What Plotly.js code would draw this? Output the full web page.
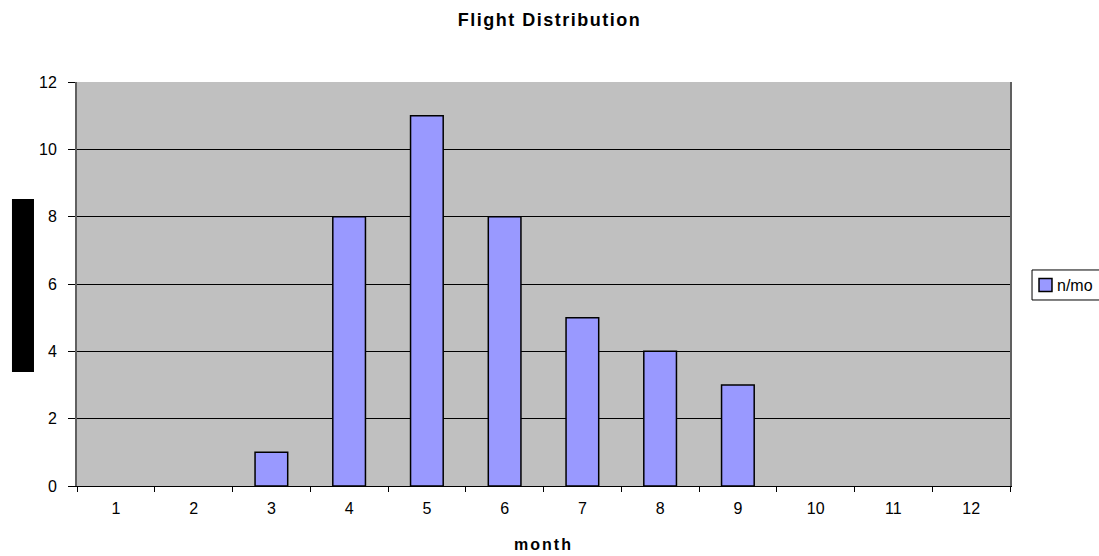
<!DOCTYPE html>
<html>
<head>
<meta charset="utf-8">
<script src="https://cdn.plot.ly/plotly-3.0.1.min.js"></script>
<style>
html,body{margin:0;padding:0;background:#fff;}
#chart{width:1099px;height:556px;}
#chart .gtitle{letter-spacing:1.5px;}
#chart .xtitle{letter-spacing:2px;}
</style>
</head>
<body>
<div id="chart"></div>
<script>
var months = ['1','2','3','4','5','6','7','8','9','10','11','12'];
var flights = [0,0,1,8,11,8,5,4,3,0,0,0];
var seriesName = 'n/mo';
var yTicks = [0,2,4,6,8,10,12];

var barColor = '#9999FF';
var trace = {
  type: 'bar',
  x: months,
  y: flights,
  name: seriesName,
  showlegend: false,
  marker: {color: barColor, line: {color: '#000000', width: flights.map(function(v){ return v > 0 ? 1.5 : 0; })}},
  hoverinfo: 'x+y'
};

var FONT = 'Liberation Sans, Arial, sans-serif';
var layout = {
  width: 1099, height: 556,
  margin: {l: 77, r: 89, t: 82, b: 70, autoexpand: false},
  paper_bgcolor: '#FFFFFF',
  plot_bgcolor: '#C0C0C0',
  font: {family: FONT, size: 16, color: '#000'},
  title: {text: '<b>Flight Distribution</b>', x: 0.5, xref: 'container', y: 0.964, yref: 'container', yanchor: 'middle', font: {size: 18, family: FONT}},
  bargap: 0.58,
  showlegend: false,
  xaxis: {
    type: 'category',
    tickson: 'boundaries',
    ticks: 'outside', ticklen: 5, tickcolor: '#000',
    showline: true, linecolor: '#000', linewidth: 1,
    showgrid: false,
    tickfont: {size: 16},
    ticklabelstandoff: 8,
    title: {text: '<b>month</b>', font: {size: 16}, standoff: 22}
  },
  yaxis: {
    range: [0, 12],
    tickvals: yTicks,
    ticks: 'outside', ticklen: 7, tickcolor: '#000',
    showline: true, linecolor: '#606060', linewidth: 2, mirror: true,
    showgrid: true, gridcolor: '#000', gridwidth: 1,
    zeroline: false,
    tickfont: {size: 16},
    ticklabelstandoff: 8
  },
  annotations: [{
    text: seriesName, xref: 'paper', yref: 'paper',
    x: 1.0482, y: 0.4975, xanchor: 'left', yanchor: 'middle',
    showarrow: false, font: {size: 16, family: FONT, color: '#000'}
  }],
  shapes: [
    {type: 'rect', xref: 'paper', yref: 'paper',
     x0: -0.0697, x1: -0.0461, y0: 0.2822, y1: 0.7104,
     fillcolor: '#000', line: {width: 0}},
    {type: 'rect', xref: 'paper', yref: 'paper',
     x0: 1.0236, x1: 1.13, y0: 0.4604, y1: 0.5347,
     fillcolor: '#FFFFFF', line: {color: '#000', width: 1}, layer: 'below'},
    {type: 'rect', xref: 'paper', yref: 'paper',
     x0: 1.0311, x1: 1.0450, y0: 0.4814, y1: 0.5136,
     fillcolor: barColor, line: {color: '#000', width: 1.5}}
  ]
};

Plotly.newPlot('chart', [trace], layout, {displayModeBar: false, staticPlot: true});
</script>
</body>
</html>
